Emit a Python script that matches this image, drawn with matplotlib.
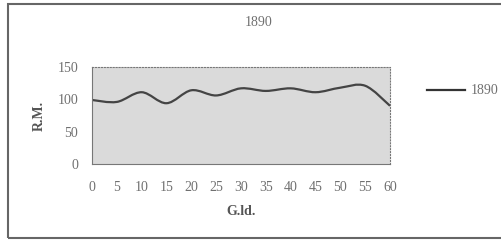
import matplotlib
matplotlib.use('Agg')
import matplotlib.pyplot as plt
from matplotlib.patches import Rectangle, PathPatch
from matplotlib.path import Path
from matplotlib.lines import Line2D

# G.ld. values and R.M.
gld = [0, 5, 10, 15, 20, 25, 30, 35, 40, 45, 50, 55, 60]
rm = [99, 96, 111, 94, 114, 106, 117, 113, 117, 111, 118, 121, 90]
series_name = '1890'
xticks = list(range(0, 61, 5))
yticks = [0, 50, 100, 150]

plt.rcParams['font.family'] = ['Liberation Serif', 'DejaVu Serif']

fig = plt.figure(figsize=(5.01, 2.40), dpi=100)
ax = fig.add_axes([92 / 501, 1 - 164 / 240, 298 / 501, 97 / 240])
ax.set_facecolor('#dadada')


# smoothed line like the spreadsheet "smoothed line" option (Catmull-Rom as Bezier)
def smooth_path(xs, ys, t=1 / 6):
    verts = [(xs[0], ys[0])]
    codes = [Path.MOVETO]
    n = len(xs)
    for i in range(n - 1):
        x0, y0 = xs[max(i - 1, 0)], ys[max(i - 1, 0)]
        x1, y1 = xs[i], ys[i]
        x2, y2 = xs[i + 1], ys[i + 1]
        x3, y3 = xs[min(i + 2, n - 1)], ys[min(i + 2, n - 1)]
        verts += [(x1 + (x2 - x0) * t, y1 + (y2 - y0) * t),
                  (x2 - (x3 - x1) * t, y2 - (y3 - y1) * t),
                  (x2, y2)]
        codes += [Path.CURVE4] * 3
    return Path(verts, codes)


ax.add_patch(PathPatch(smooth_path(gld, rm), facecolor='none',
                       edgecolor='#444444', linewidth=1.6))
ax.set_xlim(0, 60)
ax.set_ylim(0, 150)
ax.set_xticks(xticks)
ax.set_yticks(yticks)
ax.tick_params(length=0, labelsize=10, colors='#707070', pad=12)
ax.tick_params(axis='y', pad=10)
for s in ax.spines.values():
    s.set_color('#777777')
    s.set_linewidth(0.8)
ax.spines['top'].set_linestyle(':')
ax.spines['right'].set_linestyle(':')

ax.set_xlabel('G.ld.', fontsize=10, fontweight='bold', color='#555555', labelpad=8)
ax.set_ylabel('R.M.', fontsize=10, fontweight='bold', color='#555555', labelpad=8)
fig.text(259 / 501, 1 - 22 / 240, series_name, ha='center', va='center',
         fontsize=10, color='#707070')

handle = Line2D([], [], color='#333333', linewidth=1.6)
fig.legend([handle], [series_name], loc='center left',
           bbox_to_anchor=(414 / 501, 1 - 91 / 240),
           frameon=False, fontsize=10, handlelength=2.8, handletextpad=0.4,
           labelcolor='#707070')

# outer frame of the chart (right edge runs off the scan)
fig.patches.append(Rectangle((8 / 501, 2 / 240), 520 / 501, 234 / 240,
                             transform=fig.transFigure, fill=False,
                             edgecolor='#666666', linewidth=1.5))

fig.savefig('out.png', dpi=100)
